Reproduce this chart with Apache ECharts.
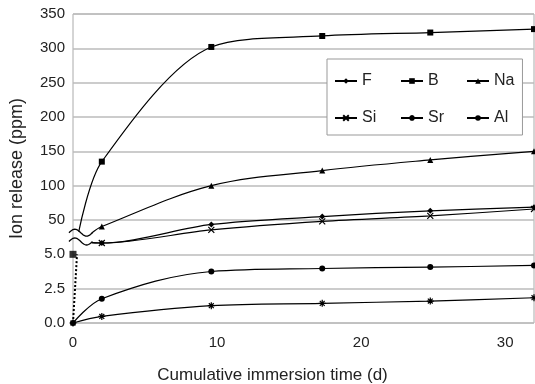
<!DOCTYPE html>
<html>
<head>
<meta charset="utf-8">
<script src="https://cdn.jsdelivr.net/npm/echarts@6/dist/echarts.min.js"></script>
<style>
  html, body { margin: 0; padding: 0; background: #fff; }
  #main { width: 535px; height: 384px; }
</style>
</head>
<body>
<div id="main"></div>
<script>
// immersion days
var days = [0, 2, 9.6, 17.3, 24.8, 32];
var upperDays = days.slice(1);
var yTickLabels = ['0.0', '2.5', '5.0', '50', '100', '150', '200', '250', '300', '350'];

// upper part of the broken axis (ppm), day 2 .. 32
var F = [16.5, 43.5, 55, 63.4, 68.7];
var B = [135, 302, 318, 323, 328];
var Na = [40.5, 100, 122, 137.5, 150];
var Si = [16.5, 35.6, 48, 56, 66];
// lower part (ppm), day 0 .. 32
var Sr = [0, 0.48, 1.26, 1.43, 1.6, 1.84];
var Al = [0, 1.77, 3.75, 3.97, 4.07, 4.19];

// where the upper curves come out of the axis break [day, ppm]
var breakEntry = { F: [1.3, 17], B: [0.4, 33], Na: [1.3, 31], Si: [1.3, 17] };
// dotted start from 0 up to the break, and day-0 marker at 5.0
var dotted = [[0, 0], [0.28, 5]];
var startMark = [[0, 5]];

// broken axis: 0-5 gets 2 steps, 50-350 gets 6 steps
function up(v) { return 2 + v / 50; }
function low(v) { return v / 2.5; }

var pathX = 'path://M0,0L10,10M10,0L0,10';
var pathStar = 'path://M5,0L5,10M0,5L10,5M1.5,1.5L8.5,8.5M8.5,1.5L1.5,8.5';

function upperSeries(name, vals, symbol, size, smooth) {
  var e = breakEntry[name];
  var data = [{ value: [e[0], up(e[1])], symbol: 'none' }];
  vals.forEach(function (v, i) { data.push([upperDays[i], up(v)]); });
  return mk(name, data, symbol, size, smooth);
}
function lowerSeries(name, vals, symbol, size) {
  return mk(name, vals.map(function (v, i) { return [days[i], low(v)]; }), symbol, size, 0.35);
}
function mk(name, data, symbol, size, smooth) {
  var stroked = symbol.indexOf('path://') === 0;
  return {
    name: name,
    type: 'line',
    smooth: smooth,
    data: data,
    symbol: symbol,
    symbolSize: size,
    lineStyle: { color: '#000', width: 1.2 },
    itemStyle: { color: '#000', borderColor: '#000', borderWidth: stroked ? 1.2 : 0 },
    z: 3
  };
}

var series = [
  upperSeries('F', F, 'diamond', 6, 0.3),
  upperSeries('B', B, 'rect', 6, 0.3),
  upperSeries('Na', Na, 'triangle', 6, 0.35),
  upperSeries('Si', Si, pathX, 6, 0.3),
  lowerSeries('Sr', Sr, pathStar, 7),
  lowerSeries('Al', Al, 'circle', 6),
  {
    type: 'line',
    data: dotted.map(function (p) { return [p[0], low(p[1])]; }),
    symbol: 'none',
    lineStyle: { color: '#000', width: 2, type: [2, 2] }
  },
  {
    type: 'scatter',
    data: startMark.map(function (p) { return [p[0], low(p[1])]; }),
    symbol: 'rect',
    symbolSize: 7,
    itemStyle: { color: '#000' }
  }
];

var font = 'Liberation Sans, Arial, sans-serif';
var chart = echarts.init(document.getElementById('main'));
chart.setOption({
  animation: false,
  backgroundColor: '#fff',
  textStyle: { fontFamily: font },
  grid: {
    left: 73, right: 1, top: 14, bottom: 61,
    outerBoundsMode: 'none',
    show: true, borderColor: '#aaa', borderWidth: 1
  },
  legend: {
    data: ['F', 'B', 'Na', 'Si', 'Sr', 'Al'],
    left: 327,
    top: 59,
    width: 200,
    orient: 'horizontal',
    itemWidth: 22,
    itemHeight: 7,
    itemGap: 18,
    padding: [12.5, 8, 7.5, 7],
    backgroundColor: '#fff',
    borderColor: '#999',
    borderWidth: 1,
    textStyle: { fontSize: 16, color: '#222', width: 20, lineHeight: 19, fontFamily: font }
  },
  xAxis: {
    type: 'value',
    min: 0,
    max: 32,
    interval: 10,
    name: 'Cumulative immersion time (d)',
    nameLocation: 'middle',
    nameGap: 44,
    nameTextStyle: { fontSize: 17, color: '#222', padding: [0, 62, 0, 0] },
    axisLine: { show: false },
    axisTick: { show: false },
    splitLine: { show: false },
    axisLabel: { fontSize: 15, color: '#222', margin: 12, showMaxLabel: false }
  },
  yAxis: {
    type: 'value',
    min: 0,
    max: 9,
    interval: 1,
    name: 'Ion release (ppm)',
    nameLocation: 'middle',
    nameGap: 47,
    nameTextStyle: { fontSize: 18, color: '#222' },
    axisLine: { show: false },
    axisTick: { show: false },
    splitLine: { lineStyle: { color: '#bbb', width: 1.5 } },
    axisLabel: {
      fontSize: 15, color: '#222', margin: 8,
      formatter: function (v) { return yTickLabels[Math.round(v)]; }
    }
  },
  series: series
});

// wavy break marks on the upper curves
function wave(day0, day1, d) {
  var a = chart.convertToPixel({ gridIndex: 0 }, [day0, d]);
  var b = chart.convertToPixel({ gridIndex: 0 }, [day1, d]);
  var pts = [];
  for (var i = 0; i <= 24; i++) {
    var t = i / 24;
    pts.push([a[0] + (b[0] - a[0]) * t, a[1] - 3.5 * Math.sin(t * Math.PI * 2)]);
  }
  return { type: 'polyline', shape: { points: pts }, style: { stroke: '#000', lineWidth: 1.3, fill: null }, z: 10 };
}
chart.setOption({
  graphic: [wave(-0.28, 1.35, up(31.5)), wave(-0.28, 1.35, up(18.7))]
});
</script>
</body>
</html>
